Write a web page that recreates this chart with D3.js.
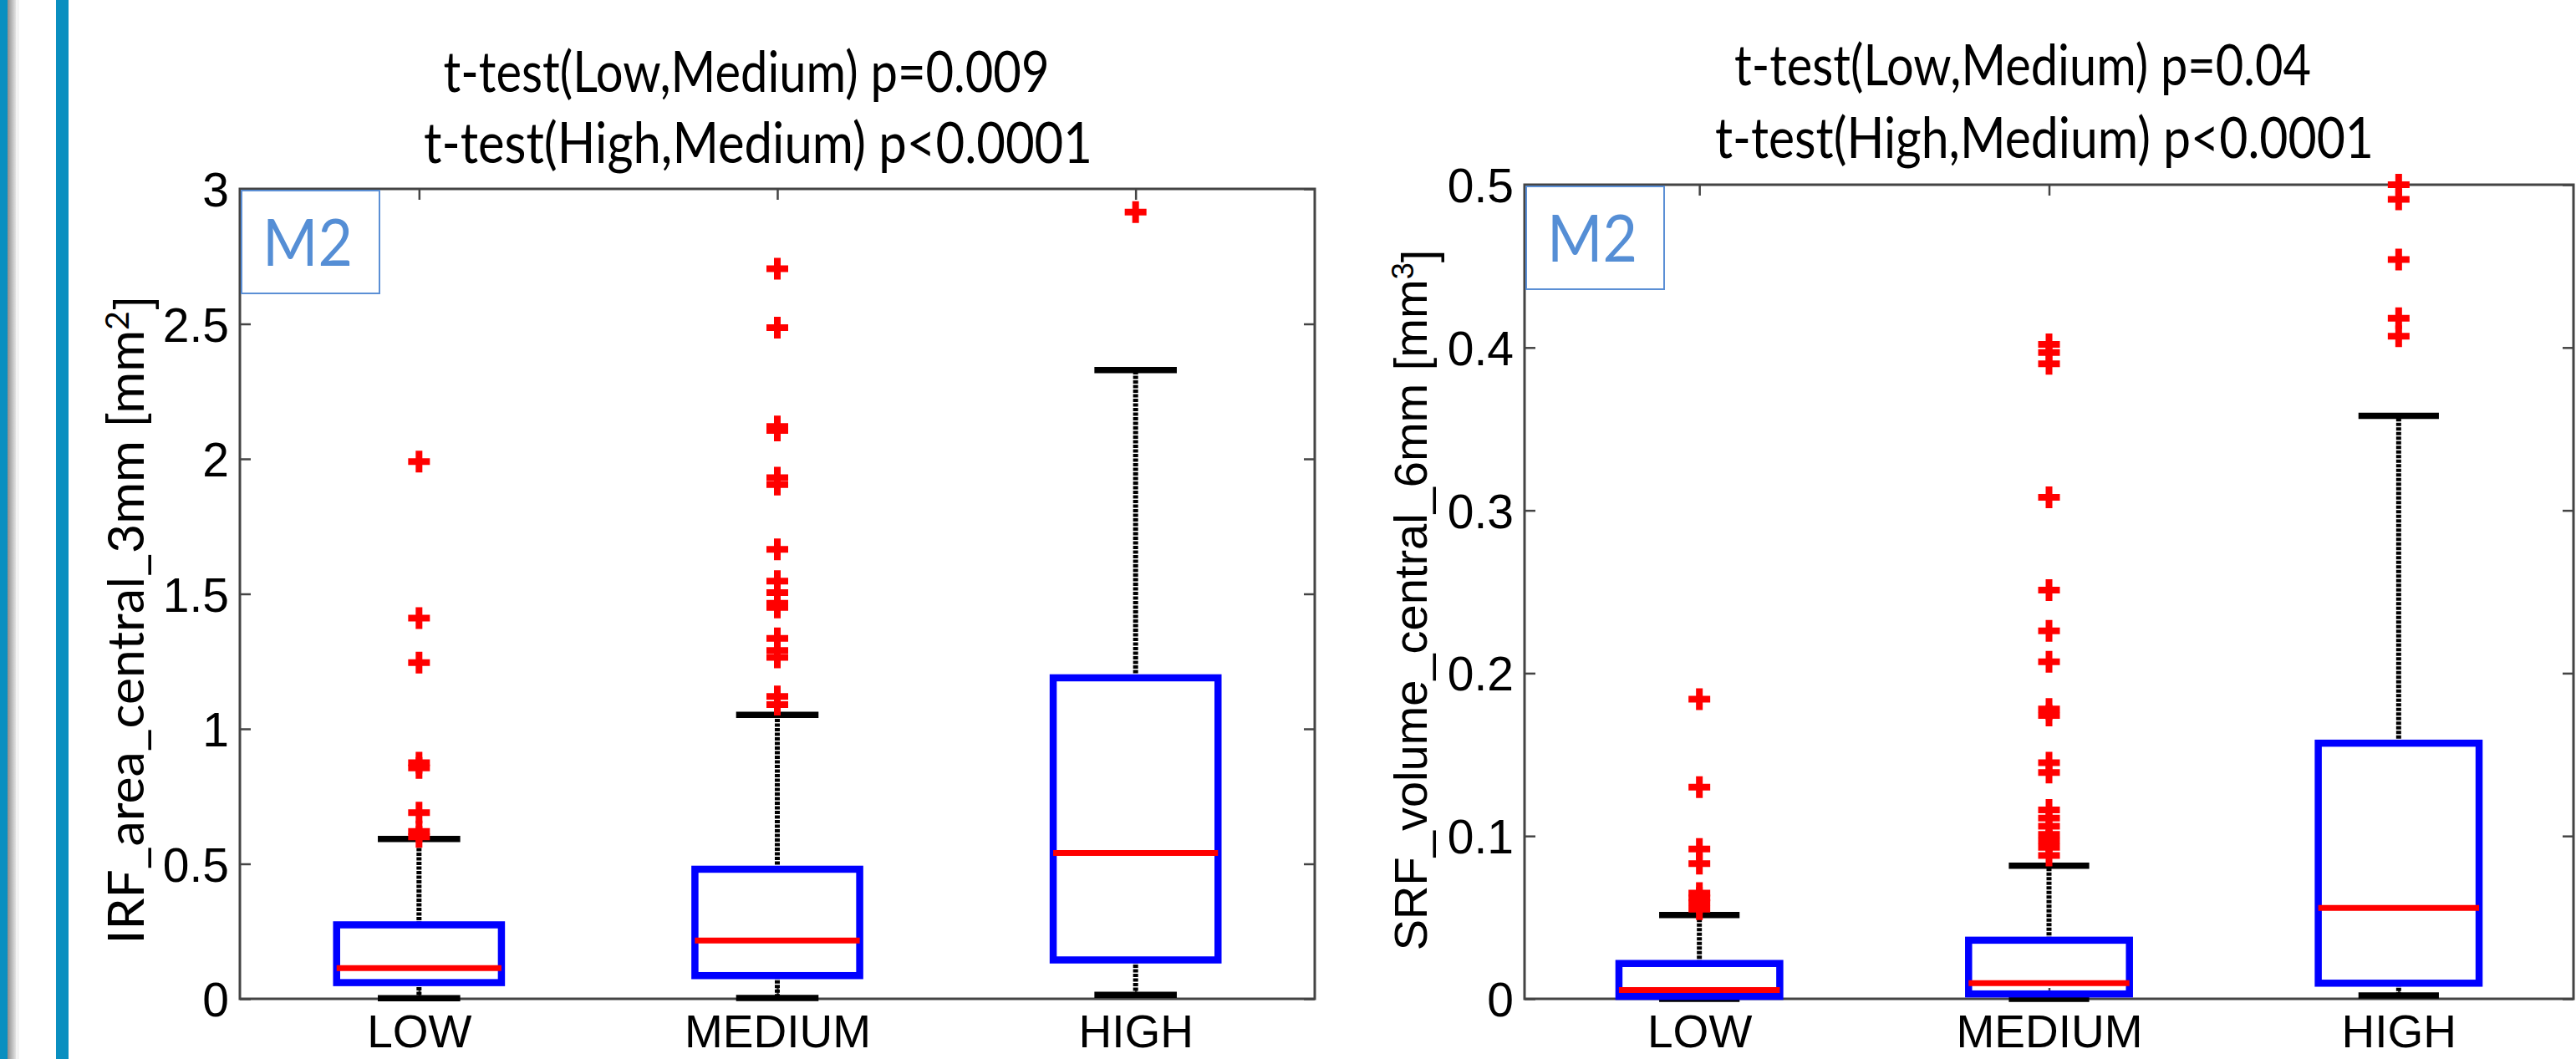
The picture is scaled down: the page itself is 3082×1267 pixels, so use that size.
<!DOCTYPE html>
<html>
<head>
<meta charset="utf-8">
<script src="https://cdn.jsdelivr.net/npm/d3@7"></script>
<style>
  html, body { margin: 0; padding: 0; background: #fff; }
  svg { display: block; }
</style>
</head>
<body>
<div id="chart"></div>
<script>
// categories shared by both panels
const categories = [`LOW`, `MEDIUM`, `HIGH`];

// IRF_area_central_3mm (left panel)
const irfTicks = [0, 0.5, 1, 1.5, 2, 2.5, 3];
const irfWhiskerLo = [0.002, 0.003, 0.015];
const irfQ1 = [0.06, 0.086, 0.144];
const irfMedian = [0.114, 0.216, 0.54];
const irfQ3 = [0.274, 0.48, 1.189];
const irfWhiskerHi = [0.592, 1.052, 2.329];
const irfOutliers = [
  [1.99, 1.41, 1.245, 0.875, 0.855, 0.69, 0.62, 0.6],
  [2.704, 2.486, 2.12, 2.105, 1.93, 1.905, 1.665, 1.547, 1.505, 1.465, 1.45, 1.335, 1.29, 1.265, 1.12, 1.09],
  [2.914]
];
const irfTitles = [`t-test(Low,Medium) p=0.009`, `t-test(High,Medium) p<0.0001`];

// SRF_volume_central_6mm (right panel)
const srfTicks = [0, 0.1, 0.2, 0.3, 0.4, 0.5];
const srfWhiskerLo = [0, 0, 0.002];
const srfQ1 = [0.0015, 0.003, 0.0096];
const srfMedian = [0.0054, 0.0096, 0.0558];
const srfQ3 = [0.0217, 0.036, 0.157];
const srfWhiskerHi = [0.0515, 0.0817, 0.358];
const srfOutliers = [
  [0.184, 0.13, 0.092, 0.083, 0.065, 0.062, 0.059, 0.055],
  [0.402, 0.397, 0.39, 0.308, 0.251, 0.226, 0.207, 0.178, 0.174, 0.145, 0.139, 0.116, 0.111, 0.106, 0.101, 0.097, 0.093, 0.088],
  [0.5, 0.491, 0.454, 0.418, 0.407]
];
const srfTitles = [`t-test(Low,Medium) p=0.04`, `t-test(High,Medium) p<0.0001`];

const W = 3082, H = 1267;
const ARIAL = `"Liberation Sans", Arial, sans-serif`;
const CALIBRI = `Lato, "Open Sans", sans-serif`;

const svg = d3.select(`#chart`).append(`svg`)
  .attr(`width`, W)
  .attr(`height`, H);

svg.append(`rect`).attr(`width`, W).attr(`height`, H).attr(`fill`, `#fff`);

// slide edge decoration on the left
const edge = svg.append(`defs`).append(`linearGradient`).attr(`id`, `edgeShade`);
edge.append(`stop`).attr(`offset`, `0%`).attr(`stop-color`, `#8e8e8e`);
edge.append(`stop`).attr(`offset`, `100%`).attr(`stop-color`, `#e4e4e4`);
svg.append(`rect`).attr(`x`, 0).attr(`y`, 0).attr(`width`, 9).attr(`height`, H).attr(`fill`, `#0a8fc0`);
svg.append(`rect`).attr(`x`, 9).attr(`y`, 0).attr(`width`, 10).attr(`height`, H).attr(`fill`, `url(#edgeShade)`);
svg.append(`rect`).attr(`x`, 19).attr(`y`, 0).attr(`width`, 4).attr(`height`, H).attr(`fill`, `#f3f3f3`);
svg.append(`rect`).attr(`x`, 67).attr(`y`, 0).attr(`width`, 15).attr(`height`, H).attr(`fill`, `#0a8fc0`);

function drawPanel(p) {
  const x = d3.scalePoint().domain(categories).range([p.left, p.right]).padding(0.5);
  const y = d3.scaleLinear().domain(p.domain).range([p.bottom, p.top]);
  const boxW = x.step() * 0.46;
  const capW = boxW / 2;
  const g = svg.append(`g`);

  // axes, ticks pointing inside
  const tickLen = 13;
  const left = g.append(`g`).attr(`transform`, `translate(${p.left},0)`)
    .call(d3.axisLeft(y).tickValues(p.ticks).tickSize(-tickLen).tickPadding(13).tickFormat(d3.format(`~g`)));
  const right = g.append(`g`).attr(`transform`, `translate(${p.right},0)`)
    .call(d3.axisRight(y).tickValues(p.ticks).tickSize(-tickLen).tickFormat(``));
  const top = g.append(`g`).attr(`transform`, `translate(0,${p.top})`)
    .call(d3.axisTop(x).tickSize(-tickLen).tickFormat(``));
  const bottom = g.append(`g`).attr(`transform`, `translate(0,${p.bottom})`)
    .call(d3.axisBottom(x).tickSize(-tickLen).tickPadding(19));

  [left, right, top, bottom].forEach((a) => {
    a.select(`.domain`).remove();
    a.selectAll(`line`).attr(`stroke`, `#444`).attr(`stroke-width`, 2.5);
    a.selectAll(`text`).attr(`fill`, `#000`).style(`font-family`, ARIAL).style(`font-size`, `57px`);
  });
  bottom.selectAll(`text`).style(`font-size`, `55px`);
  left.selectAll(`text`).attr(`dy`, `0.36em`);
  bottom.selectAll(`text`).attr(`dy`, `0.71em`);

  g.append(`rect`)
    .attr(`x`, p.left).attr(`y`, p.top)
    .attr(`width`, p.right - p.left).attr(`height`, p.bottom - p.top)
    .attr(`fill`, `none`).attr(`stroke`, `#444`).attr(`stroke-width`, 3);

  const idx = d3.range(categories.length);

  // whiskers
  g.selectAll(`.whisker-hi`).data(idx).enter().append(`line`)
    .attr(`x1`, (i) => x(categories[i])).attr(`x2`, (i) => x(categories[i]))
    .attr(`y1`, (i) => y(p.q3[i])).attr(`y2`, (i) => y(p.whiskerHi[i]))
    .attr(`stroke`, `#000`).attr(`stroke-width`, 6).attr(`stroke-dasharray`, `4,1.5`);
  g.selectAll(`.whisker-lo`).data(idx).enter().append(`line`)
    .attr(`x1`, (i) => x(categories[i])).attr(`x2`, (i) => x(categories[i]))
    .attr(`y1`, (i) => y(p.q1[i])).attr(`y2`, (i) => y(p.whiskerLo[i]))
    .attr(`stroke`, `#000`).attr(`stroke-width`, 6).attr(`stroke-dasharray`, `4,1.5`);

  // caps
  [p.whiskerHi, p.whiskerLo].forEach((vals) => {
    g.selectAll(null).data(idx).enter().append(`line`)
      .attr(`x1`, (i) => x(categories[i]) - capW / 2).attr(`x2`, (i) => x(categories[i]) + capW / 2)
      .attr(`y1`, (i) => y(vals[i])).attr(`y2`, (i) => y(vals[i]))
      .attr(`stroke`, `#000`).attr(`stroke-width`, 7.5);
  });

  // boxes
  g.selectAll(`.box`).data(idx).enter().append(`rect`)
    .attr(`x`, (i) => x(categories[i]) - boxW / 2)
    .attr(`y`, (i) => y(p.q3[i]))
    .attr(`width`, boxW)
    .attr(`height`, (i) => y(p.q1[i]) - y(p.q3[i]))
    .attr(`fill`, `none`).attr(`stroke`, `#0000ff`).attr(`stroke-width`, 8.5);

  // medians
  g.selectAll(`.median`).data(idx).enter().append(`line`)
    .attr(`x1`, (i) => x(categories[i]) - boxW / 2).attr(`x2`, (i) => x(categories[i]) + boxW / 2)
    .attr(`y1`, (i) => y(p.median[i])).attr(`y2`, (i) => y(p.median[i]))
    .attr(`stroke`, `#ff0000`).attr(`stroke-width`, 7);

  // outliers as red plus signs
  const pts = [];
  p.outliers.forEach((arr, i) => arr.forEach((v) => pts.push({ c: categories[i], v })));
  g.selectAll(`.outlier`).data(pts).enter().append(`path`)
    .attr(`transform`, (d) => `translate(${x(d.c)},${y(d.v)})`)
    .attr(`d`, `M-13,0H13M0,-13V13`)
    .attr(`stroke`, `#ff0000`).attr(`stroke-width`, 8).attr(`fill`, `none`);

  // M2 label box
  g.append(`rect`)
    .attr(`x`, p.left + 2).attr(`y`, p.top + 2)
    .attr(`width`, 165).attr(`height`, 123)
    .attr(`fill`, `#fff`).attr(`stroke`, `#5b8fd5`).attr(`stroke-width`, 2);
  g.append(`text`)
    .attr(`x`, p.left + 27).attr(`y`, p.top + 92)
    .attr(`textLength`, 108).attr(`lengthAdjust`, `spacingAndGlyphs`)
    .style(`font-family`, CALIBRI).style(`font-size`, `78px`).attr(`fill`, `#558ed5`)
    .text(`M2`);

  // titles
  p.titles.forEach((t, i) => {
    g.append(`text`)
      .attr(`x`, p.titleX[i]).attr(`y`, p.titleY[i])
      .attr(`text-anchor`, `middle`)
      .attr(`textLength`, p.titleW[i]).attr(`lengthAdjust`, `spacingAndGlyphs`)
      .style(`font-family`, CALIBRI).style(`font-size`, `68px`)
      .text(t);
  });

  // y label
  const yl = g.append(`text`)
    .attr(`transform`, `translate(${p.ylabelX},${(p.top + p.bottom) / 2 + p.ylabelShift}) rotate(-90)`)
    .attr(`text-anchor`, `middle`)
    .style(`font-family`, p.ylabelFont).style(`font-size`, `${p.ylabelSize}px`);
  if (p.ylabelLen) yl.attr(`textLength`, p.ylabelLen).attr(`lengthAdjust`, `spacingAndGlyphs`);
  yl.append(`tspan`).text(p.ylabel[0]);
  yl.append(`tspan`).attr(`dy`, `-0.45em`).style(`font-size`, `${Math.round(p.ylabelSize * 0.65)}px`).text(p.ylabel[1]);
  yl.append(`tspan`).attr(`dy`, `0.45em`).text(p.ylabel[2]);
}

drawPanel({
  left: 287, right: 1573, top: 226, bottom: 1195,
  domain: [0, 3], ticks: irfTicks,
  whiskerLo: irfWhiskerLo, q1: irfQ1, median: irfMedian, q3: irfQ3, whiskerHi: irfWhiskerHi,
  outliers: irfOutliers,
  titles: irfTitles, titleX: [893, 907], titleY: [110, 195], titleW: [725, 800],
  ylabel: [`IRF_area_central_3mm [mm`, `2`, `]`],
  ylabelFont: CALIBRI, ylabelSize: 60, ylabelLen: 776, ylabelX: 172, ylabelShift: 31
});

drawPanel({
  left: 1824, right: 3079, top: 221, bottom: 1195,
  domain: [0, 0.5], ticks: srfTicks,
  whiskerLo: srfWhiskerLo, q1: srfQ1, median: srfMedian, q3: srfQ3, whiskerHi: srfWhiskerHi,
  outliers: srfOutliers,
  titles: srfTitles, titleX: [2420, 2446], titleY: [102, 189], titleW: [690, 788],
  ylabel: [`SRF_volume_central_6mm [mm`, `3`, `]`],
  ylabelFont: ARIAL, ylabelSize: 56, ylabelLen: null, ylabelX: 1707, ylabelShift: 10
});
</script>
</body>
</html>
